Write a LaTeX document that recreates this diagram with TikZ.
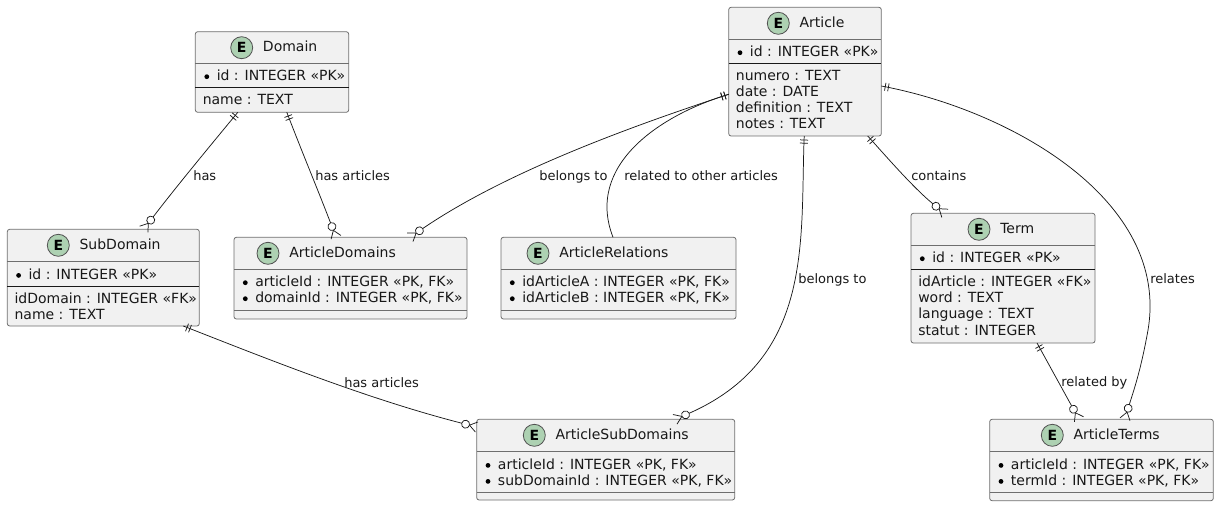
\documentclass[tikz,border=0pt]{standalone}
\usepackage{fontspec}
\setmainfont{DejaVu Sans}
\usetikzlibrary{fit,calc,arrows.meta}
\definecolor{boxfill}{HTML}{F1F1F1}
\definecolor{ink}{HTML}{181818}
\definecolor{boxline}{HTML}{6E6E6E}
\definecolor{spot}{HTML}{ADD1B2}
\pgfdeclarearrow{
  name=CrowOpen,
  cache=false,
  setup code={\pgfarrowssettipend{0pt}\pgfarrowssetbackend{-11.5pt}\pgfarrowssetlineend{-8.6pt}\pgfarrowssetvisualbackend{-8.6pt}},
  drawing code={
    \pgfsetroundjoin
    \pgfsetdash{}{0pt}
    \pgfpathmoveto{\pgfpoint{0pt}{3.9pt}}
    \pgfpathlineto{\pgfpoint{-5.6pt}{0pt}}
    \pgfpathlineto{\pgfpoint{0pt}{-3.9pt}}
    \pgfusepathqstroke
    \pgfsetfillcolor{white}
    \pgfpathcircle{\pgfpoint{-8.6pt}{0pt}}{3pt}
    \pgfusepathqfillstroke
  },
}
\pgfdeclarearrow{
  name=DoubleBar,
  cache=false,
  setup code={\pgfarrowssettipend{0pt}\pgfarrowssetbackend{-6pt}\pgfarrowssetlineend{0pt}\pgfarrowssetvisualbackend{0pt}},
  drawing code={
    \pgfpathmoveto{\pgfpoint{-3pt}{3pt}}\pgfpathlineto{\pgfpoint{-3pt}{-3pt}}
    \pgfpathmoveto{\pgfpoint{-5.4pt}{3pt}}\pgfpathlineto{\pgfpoint{-5.4pt}{-3pt}}
    \pgfusepathqstroke
  },
}
\tikzset{
  ebox/.style={draw=boxline,fill=boxfill,rounded corners=1.8pt,line width=0.6pt,inner sep=0pt,outer sep=0pt},
  spotc/.style={circle,draw=ink!75!white,fill=spot,line width=0.6pt,minimum size=16.5pt,inner sep=0pt,font=\fontsize{10.5}{12}\selectfont\bfseries,text=black},
  ttl/.style={anchor=base west,inner sep=0pt,font=\fontsize{10.5}{12}\selectfont,text=ink},
  mem/.style={anchor=base west,inner sep=0pt,font=\fontsize{10.5}{12}\selectfont,text=ink},
  bull/.style={circle,fill=black,inner sep=0pt,minimum size=3.6pt},
  lab/.style={anchor=base west,inner sep=0pt,font=\fontsize{9.75}{12}\selectfont,text=ink},
  rel/.style={draw=ink,line width=0.55pt},
  crow/.style={rel,DoubleBar-CrowOpen},
}
% id, x1,y1,x2,y2, header rule y, member rule y (solid dark when #8=1), spot x,y, title, title x, title base
\newcommand{\Ent}[9]{%
  \node[ebox,fit={(#2,#3)(#4,#5)}] (#1) {};
  \draw[boxline,line width=0.6pt] (#2,#6) -- (#4,#6);
  \node[spotc] (#1-spot) at (#8,#3+16) {E};
  \node[ttl] (#1-title) at (#8+21,#3+20.3) {#9};
}
\newcommand{\Mem}[4]{\node[mem] (#1) at (#2,#3) {#4};}
\newcommand{\Key}[4]{%
  \node[bull] (#1-b) at (#2+4.3,#3-3.6) {};
  \node[mem] (#1) at (#2+14,#3) {#4};}
\begin{document}
\begin{tikzpicture}[x=0.75pt,y=-0.75pt]
\useasboundingbox (0,0) rectangle (1219,506);

\Ent{dom}{195.3}{31.7}{348.7}{112.3}{63.3}{87.3}{241.7}{Domain}
\draw[ink,line width=0.6pt] (195.3,87.3) -- (348.7,87.3);
\Key{dom1}{202.5}{80.3}{id : INTEGER «PK»}
\Mem{dom2}{202.5}{104.8}{name : TEXT}

\Ent{art}{728.7}{7.3}{881.3}{136}{39.3}{63.3}{778.3}{Article}
\draw[ink,line width=0.6pt] (728.7,63.3) -- (881.3,63.3);
\Key{art1}{735.7}{56.3}{id : INTEGER «PK»}
\Mem{art2}{735.7}{80.3}{numero : TEXT}
\Mem{art3}{735.7}{96.8}{date : DATE}
\Mem{art4}{735.7}{113}{definition : TEXT}
\Mem{art5}{735.7}{129}{notes : TEXT}

\Ent{sub}{7.3}{229.3}{199.3}{326}{261.7}{286.3}{58.3}{SubDomain}
\draw[ink,line width=0.6pt] (7.3,286.3) -- (199.3,286.3);
\Key{sub1}{14.3}{279}{id : INTEGER «PK»}
\Mem{sub2}{14.3}{303.3}{idDomain : INTEGER «FK»}
\Mem{sub3}{14.3}{319.3}{name : TEXT}

\Ent{ad}{234}{237.3}{467}{319}{269.3}{310}{268}{ArticleDomains}
\draw[boxline,line width=0.6pt] (234,310) -- (467,310);
\Key{ad1}{241}{286.3}{articleId : INTEGER «PK, FK»}
\Mem{ad1x}{241}{286.3}{}
\Key{ad2}{241}{302.3}{domainId : INTEGER «PK, FK»}

\Ent{ar}{501}{237.3}{736}{319}{269.3}{310}{538}{ArticleRelations}
\draw[boxline,line width=0.6pt] (501,310) -- (736,310);
\Key{ar1}{508}{286.3}{idArticleA : INTEGER «PK, FK»}
\Key{ar2}{508}{302.3}{idArticleB : INTEGER «PK, FK»}

\Ent{term}{911}{213.3}{1095}{343}{245.3}{269.3}{979}{Term}
\draw[ink,line width=0.6pt] (911,269.3) -- (1095,269.3);
\Key{term1}{918}{262.3}{id : INTEGER «PK»}
\Mem{term2}{918}{286.3}{idArticle : INTEGER «FK»}
\Mem{term3}{918}{302.5}{word : TEXT}
\Mem{term4}{918}{318.5}{language : TEXT}
\Mem{term5}{918}{335}{statut : INTEGER}

\Ent{asd}{476.7}{419.3}{734.7}{500}{451.3}{492.3}{534.3}{ArticleSubDomains}
\draw[boxline,line width=0.6pt] (476.7,492.3) -- (734.7,492.3);
\Key{asd1}{483.7}{469}{articleId : INTEGER «PK, FK»}
\Key{asd2}{483.7}{485}{subDomainId : INTEGER «PK, FK»}

\Ent{at}{989.7}{419.3}{1213.3}{500.7}{451.3}{492.3}{1052.3}{ArticleTerms}
\draw[boxline,line width=0.6pt] (989.7,492.3) -- (1213.3,492.3);
\Key{at1}{996.7}{469}{articleId : INTEGER «PK, FK»}
\Key{at2}{996.7}{485}{termId : INTEGER «PK, FK»}

% connectors
\draw[crow] ($(dom.south west)+(42.5,0)$) .. controls (205,152) and (172,192) .. ($(sub.north west)+(136.5,0)$);
\draw[crow] ($(dom.south west)+(91.5,0)$) .. controls (302,152) and (320,195) .. ($(ad.north west)+(102,0)$);
\draw[crow] ($(art.south west)+(0,-41.7)$) .. controls (620,130) and (500,175) .. ($(ad.north west)+(176,0)$);
\draw[rel,DoubleBar-] ($(art.south west)+(0,-41.7)$) .. controls (660,115) and (585,165) .. ($(ar.north west)+(112,0)$);
\draw[crow] ($(art.south west)+(75.5,0)$) .. controls (800,240) and (815,360) .. ($(asd.north east)+(-59.7,0)$);
\draw[crow] ($(art.south west)+(139,0)$) .. controls (885,155) and (915,190) .. ($(term.north west)+(34,0)$);
\draw[crow] ($(art.south east)+(0,-50)$) .. controls (1010,110) and (1170,200) .. (1148,330) .. controls (1140,375) and (1132,395) .. ($(at.north west)+(135.3,0)$);
\draw[crow] ($(term.south west)+(126,0)$) -- ($(at.north west)+(89.3,0)$);
\draw[crow] ($(sub.south east)+(-16,0)$) .. controls (270,360) and (370,400) .. ($(asd.north west)+(0,7.7)$);

% labels
\node[lab] (l1) at (193,180) {has};
\node[lab] (l2) at (315,180) {has articles};
\node[lab] (l3) at (539,180) {belongs to};
\node[lab] (l4) at (624,180) {related to other articles};
\node[lab] (l5) at (798,283) {belongs to};
\node[lab] (l6) at (911,180) {contains};
\node[lab] (l7) at (1150,283) {relates};
\node[lab] (l8) at (1061,386) {related by};
\node[lab] (l9) at (344,387) {has articles};
\end{tikzpicture}
\end{document}
